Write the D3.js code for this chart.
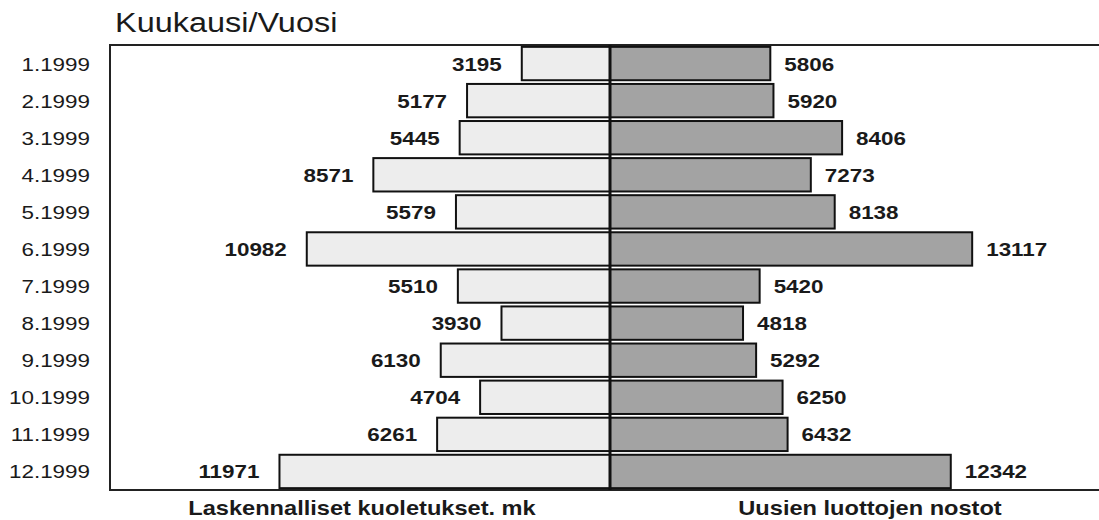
<!DOCTYPE html>
<html>
<head>
<meta charset="utf-8">
<script src="https://cdn.jsdelivr.net/npm/d3@7"></script>
<style>
  html, body { margin: 0; padding: 0; background: #fff; }
  svg { display: block; }
  text { font-family: "Liberation Sans", Arial, Helvetica, sans-serif; fill: #1a1a1a; }
</style>
</head>
<body>
<svg id="chart" width="1099" height="520"></svg>
<script>
const months = ["1.1999","2.1999","3.1999","4.1999","5.1999","6.1999","7.1999","8.1999","9.1999","10.1999","11.1999","12.1999"];
const leftValues = [3195,5177,5445,8571,5579,10982,5510,3930,6130,4704,6261,11971];
const rightValues = [5806,5920,8406,7273,8138,13117,5420,4818,5292,6250,6432,12342];
const title = "Kuukausi/Vuosi";
const leftLabel = "Laskennalliset kuoletukset. mk";
const rightLabel = "Uusien luottojen nostot";

const W = 1099, H = 520;
const frameLeft = 110, frameTop = 45, frameBottom = 490;
const SX = 1.18;

const svg = d3.select("#chart");

const x = d3.scaleLinear().domain([-18000, 18000]).range([113, 1107]);
const y = d3.scaleBand().domain(months).range([frameTop, frameBottom]).paddingInner(0.1).paddingOuter(0.05);

function stxt(g, tx, ty, str, size, weight, anchor) {
  return g.append("text")
    .attr("transform", `translate(${tx},${ty}) scale(${SX},1)`)
    .attr("text-anchor", anchor)
    .attr("font-size", size)
    .attr("font-weight", weight)
    .text(str);
}

// Title
stxt(svg, 115, 32, title, 27.5, "normal", "start");

// Frame (top, left, bottom)
svg.append("path")
  .attr("d", `M${W},${frameTop}H${frameLeft}V${frameBottom}H${W}`)
  .attr("fill", "none").attr("stroke", "#222").attr("stroke-width", 2);

// Category labels
const catG = svg.append("g");
months.forEach(m => {
  stxt(catG, 90, y(m) + y.bandwidth() / 2 + 7, m, 19, "normal", "end");
});

// Left bars
svg.append("g").selectAll("rect").data(leftValues).join("rect")
  .attr("x", d => x(-d))
  .attr("y", (d, i) => y(months[i]))
  .attr("width", d => x(0) - x(-d))
  .attr("height", y.bandwidth())
  .attr("fill", "#ededed")
  .attr("stroke", "#111").attr("stroke-width", 2);

// Right bars
svg.append("g").selectAll("rect").data(rightValues).join("rect")
  .attr("x", x(0))
  .attr("y", (d, i) => y(months[i]))
  .attr("width", d => x(d) - x(0))
  .attr("height", y.bandwidth())
  .attr("fill", "#a3a3a3")
  .attr("stroke", "#111").attr("stroke-width", 2);

// Center line
svg.append("line")
  .attr("x1", x(0)).attr("x2", x(0))
  .attr("y1", frameTop).attr("y2", frameBottom)
  .attr("stroke", "#111").attr("stroke-width", 3);

// Value labels
const valG = svg.append("g");
leftValues.forEach((v, i) => {
  stxt(valG, x(-v) - 20, y(months[i]) + y.bandwidth() / 2 + 7, String(v), 19, "bold", "end");
});
rightValues.forEach((v, i) => {
  stxt(valG, x(v) + 14, y(months[i]) + y.bandwidth() / 2 + 7, String(v), 19, "bold", "start");
});

// Bottom labels
stxt(svg, 362, 515, leftLabel, 20, "bold", "middle");
stxt(svg, 870, 515, rightLabel, 20, "bold", "middle");
</script>
</body>
</html>
